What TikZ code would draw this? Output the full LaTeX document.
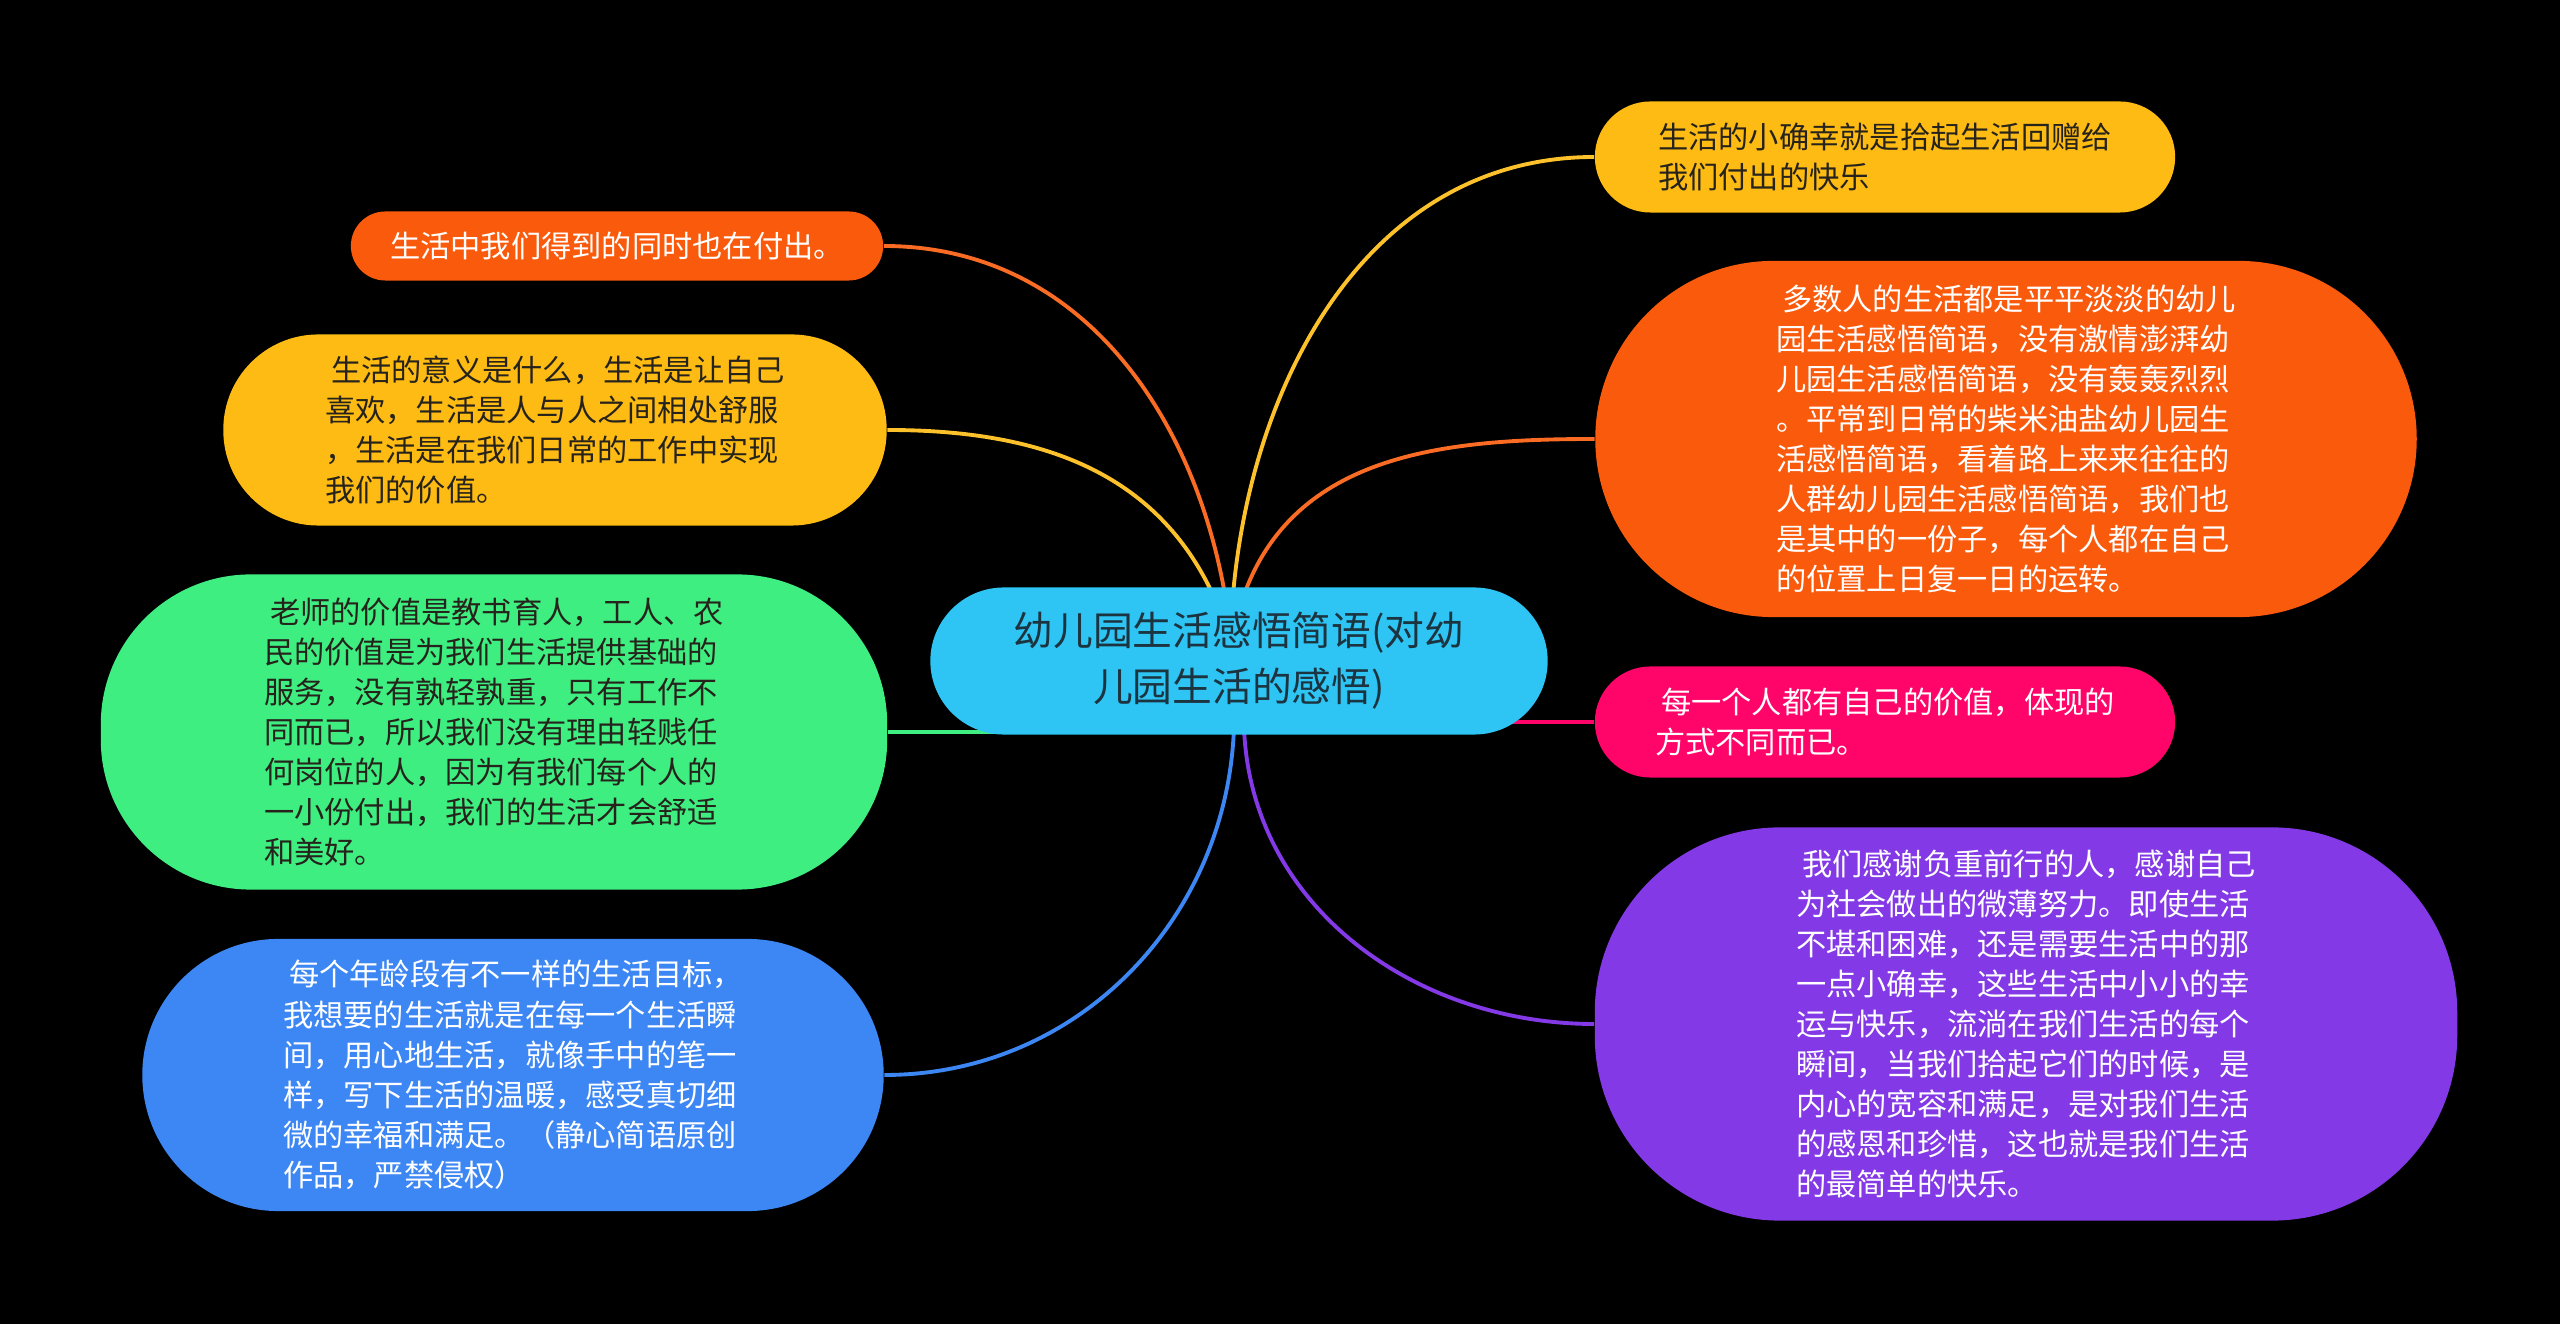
\documentclass[tikz,border=0pt]{standalone}
\usepackage{fontspec}
\setmainfont{Noto Sans CJK SC}
\usepackage{tikz}
\usetikzlibrary{calc}
\usetikzlibrary{backgrounds}

\definecolor{rootcyan}{RGB}{46,197,244}
\definecolor{boxorange}{RGB}{250,90,12}
\definecolor{boxyellow}{RGB}{253,187,19}
\definecolor{boxgreen}{RGB}{62,238,128}
\definecolor{boxblue}{RGB}{61,135,245}
\definecolor{boxpink}{RGB}{255,5,105}
\definecolor{boxpurple}{RGB}{132,57,230}
\definecolor{darkink}{RGB}{38,34,28}
\definecolor{rootink}{RGB}{28,52,64}

\begin{document}
\begin{tikzpicture}[x=0.01cm,y=0.01cm,line cap=round,
    leaf/.style={inner sep=0pt,align=left,font=\fontsize{8.6}{11.4}\selectfont},
    link/.style={line width=1.1pt}]
        \useasboundingbox (0,0) rectangle (2560,1324);
        \begin{scope}[on background layer]
                \fill[black] (0,0) rectangle (2560,1324);
        \end{scope}
        % centre topic
        \node[inner sep=0pt,align=center,fill=rootcyan,text=rootink,rounded corners=0.735cm,
              minimum width=6.17cm,minimum height=1.47cm,font=\fontsize{11.3}{16}\selectfont]
              (root) at (1239,663) {幼儿园生活感悟简语(对幼\\儿园生活的感悟)};
        % left side
        \node[leaf,fill=boxorange,text=white,rounded corners=0.345cm,minimum width=5.32cm,minimum height=0.69cm]
              (give) at (617,1078) {生活中我们得到的同时也在付出。};
        \node[leaf,fill=boxyellow,text=darkink,rounded corners=0.95cm,minimum width=6.63cm,minimum height=1.91cm]
              (mean) at (555,894) {\hspace*{0.2em}生活的意义是什么，生活是让自己\\喜欢，生活是人与人之间相处舒服\\，生活是在我们日常的工作中实现\\我们的价值。};
        \node[leaf,fill=boxgreen,text=darkink,rounded corners=1.5cm,minimum width=7.86cm,minimum height=3.15cm]
              (teach) at (494,592) {\hspace*{0.2em}老师的价值是教书育人，工人、农\\民的价值是为我们生活提供基础的\\服务，没有孰轻孰重，只有工作不\\同而已，所以我们没有理由轻贱任\\何岗位的人，因为有我们每个人的\\一小份付出，我们的生活才会舒适\\和美好。};
        \node[leaf,fill=boxblue,text=white,rounded corners=1.36cm,minimum width=7.41cm,minimum height=2.72cm]
              (goal) at (513,249) {\hspace*{0.2em}每个年龄段有不一样的生活目标，\\我想要的生活就是在每一个生活瞬\\间，用心地生活，就像手中的笔一\\样，写下生活的温暖，感受真切细\\微的幸福和满足。（静心简语原创\\作品，严禁侵权）};
        % right side
        \node[leaf,fill=boxyellow,text=darkink,rounded corners=0.555cm,minimum width=5.80cm,minimum height=1.11cm]
              (joy) at (1885,1167) {生活的小确幸就是拾起生活回赠给\\我们付出的快乐};
        \node[leaf,fill=boxorange,text=white,rounded corners=1.78cm,minimum width=8.21cm,minimum height=3.56cm]
              (plain) at (2006,885) {\hspace*{0.2em}多数人的生活都是平平淡淡的幼儿\\园生活感悟简语，没有激情澎湃幼\\儿园生活感悟简语，没有轰轰烈烈\\。平常到日常的柴米油盐幼儿园生\\活感悟简语，看着路上来来往往的\\人群幼儿园生活感悟简语，我们也\\是其中的一份子，每个人都在自己\\的位置上日复一日的运转。};
        \node[leaf,fill=boxpink,text=white,rounded corners=0.555cm,minimum width=5.80cm,minimum height=1.11cm]
              (worth) at (1885,602) {\hspace*{0.2em}每一个人都有自己的价值，体现的\\方式不同而已。};
        \node[leaf,fill=boxpurple,text=white,rounded corners=1.85cm,minimum width=8.62cm,minimum height=3.93cm]
              (thank) at (2026,300) {\hspace*{0.2em}我们感谢负重前行的人，感谢自己\\为社会做出的微薄努力。即使生活\\不堪和困难，还是需要生活中的那\\一点小确幸，这些生活中小小的幸\\运与快乐，流淌在我们生活的每个\\瞬间，当我们拾起它们的时候，是\\内心的宽容和满足，是对我们生活\\的感恩和珍惜，这也就是我们生活\\的最简单的快乐。};
        % branches
        \begin{scope}[on background layer]
                \draw[link,boxorange!90!white] ($(root.north)+(-14,-8)$) to[out=100,in=0] (give.east);
                \draw[link,boxyellow!90!white] ($(root.north)+(-26,-8)$) to[out=115,in=0] (mean.east);
                \draw[link,boxgreen] (teach.east) -- (teach.east -| root.center);
                \draw[link,boxblue] ($(root.south)+(-5,8)$) to[out=-92,in=0] (goal.east);
                \draw[link,boxyellow!90!white] ($(root.north)+(-6,-8)$) to[out=85,in=180] (joy.west);
                \draw[link,boxorange!90!white] ($(root.north)+(5,-8)$) to[out=70,in=180] (plain.west);
                \draw[link,boxpink] (worth.west) -- (worth.west -| root.center);
                \draw[link,boxpurple] ($(root.south)+(5,8)$) to[out=-88,in=180] (thank.west);
        \end{scope}
\end{tikzpicture}
\end{document}
